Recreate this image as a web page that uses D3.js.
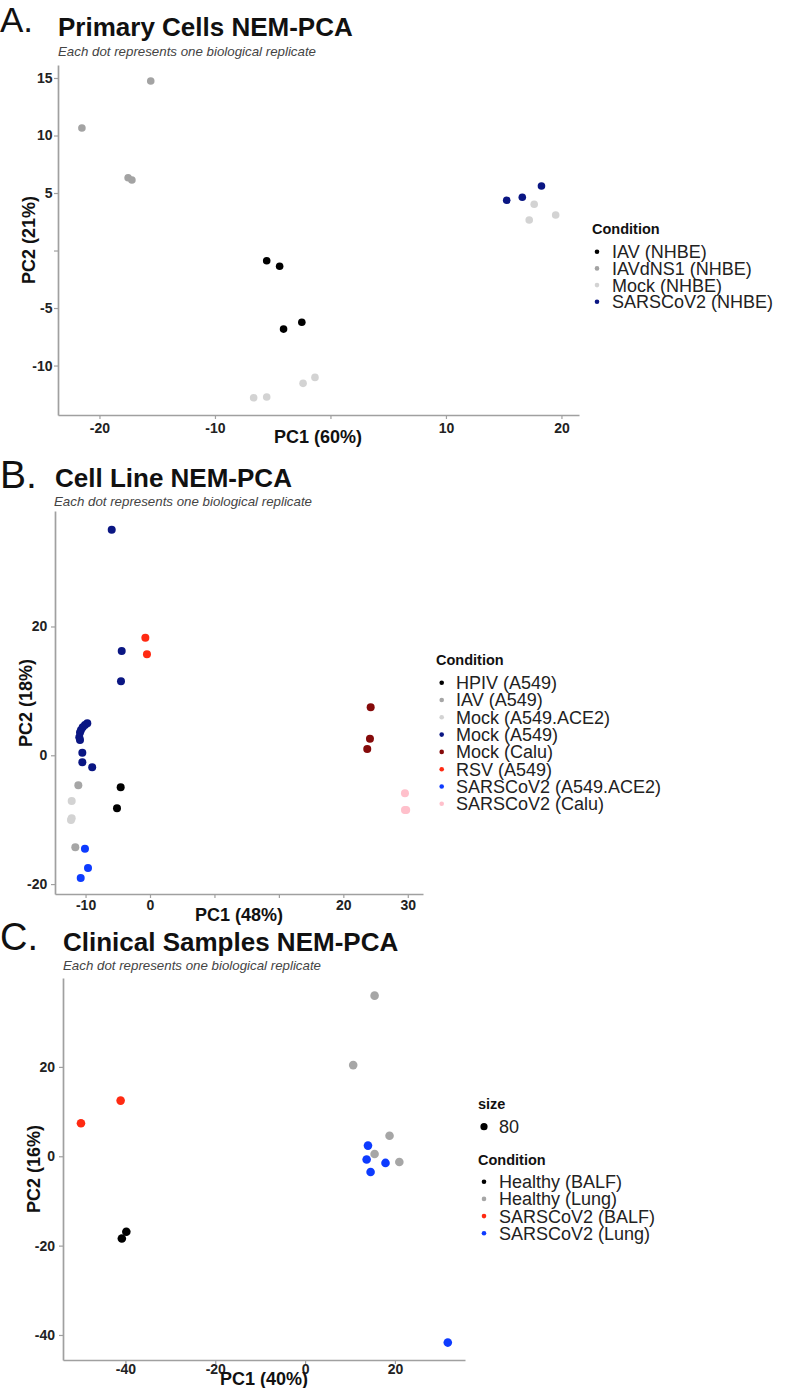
<!DOCTYPE html>
<html><head><meta charset="utf-8">
<script src="https://cdn.jsdelivr.net/npm/d3@7"></script>
<style>
html,body{margin:0;padding:0;background:#fff;}
svg{display:block;font-family:"Liberation Sans",Arial,Helvetica,sans-serif;}
</style></head><body>
<svg id="chart" width="786" height="1388"></svg>
<script>
// ---------------- Panel A : Primary Cells ----------------
const primaryConditions = ["IAV (NHBE)", "IAVdNS1 (NHBE)", "Mock (NHBE)", "SARSCoV2 (NHBE)"];
const primaryColors = ["#000000", "#a3a3a3", "#d3d3d3", "#0a1683"];
const primaryCond = [
  "IAVdNS1 (NHBE)", "IAVdNS1 (NHBE)", "IAVdNS1 (NHBE)", "IAVdNS1 (NHBE)",
  "IAV (NHBE)", "IAV (NHBE)", "IAV (NHBE)", "IAV (NHBE)",
  "Mock (NHBE)", "Mock (NHBE)", "Mock (NHBE)", "Mock (NHBE)", "Mock (NHBE)", "Mock (NHBE)", "Mock (NHBE)",
  "SARSCoV2 (NHBE)", "SARSCoV2 (NHBE)", "SARSCoV2 (NHBE)"
];
const primaryPC1 = [-15.56, -21.52, -17.52, -17.19, -5.52, -4.40, -4.06, -2.48,
  -6.65, -5.52, -2.37, -1.34, 17.64, 17.21, 19.50, 15.26, 16.61, 18.27];
const primaryPC2 = [14.74, 10.65, 6.33, 6.13, -0.89, -1.37, -6.83, -6.24,
  -12.80, -12.74, -11.55, -11.03, 4.02, 2.65, 3.09, 4.37, 4.63, 5.61];
const primaryXTicks = [-20, -10, 0, 10, 20];
const primaryXLabels = ["-20", "-10", "", "10", "20"];
const primaryYTicks = [15, 10, 5, 0, -5, -10];
const primaryYLabels = ["15", "10", "5", "", "-5", "-10"];

// ---------------- Panel B : Cell Lines ----------------
const cellConditions = ["HPIV (A549)", "IAV (A549)", "Mock (A549.ACE2)", "Mock (A549)", "Mock (Calu)",
  "RSV (A549)", "SARSCoV2 (A549.ACE2)", "SARSCoV2 (Calu)"];
const cellColors = ["#000000", "#a6a6a6", "#d3d3d3", "#0a1683", "#850a0a", "#ff2a12", "#0d3bff", "#ffc0cb"];
const cellCond = [
  "HPIV (A549)", "HPIV (A549)",
  "IAV (A549)", "IAV (A549)",
  "Mock (A549.ACE2)", "Mock (A549.ACE2)", "Mock (A549.ACE2)",
  "Mock (A549)", "Mock (A549)", "Mock (A549)", "Mock (A549)", "Mock (A549)", "Mock (A549)", "Mock (A549)",
  "Mock (A549)", "Mock (A549)", "Mock (A549)", "Mock (A549)", "Mock (A549)", "Mock (A549)",
  "Mock (Calu)", "Mock (Calu)", "Mock (Calu)",
  "RSV (A549)", "RSV (A549)",
  "SARSCoV2 (A549.ACE2)", "SARSCoV2 (A549.ACE2)", "SARSCoV2 (A549.ACE2)",
  "SARSCoV2 (Calu)", "SARSCoV2 (Calu)", "SARSCoV2 (Calu)"
];
const cellPC1 = [-4.55, -5.12, -11.12, -11.59, -12.15, -12.15, -12.26,
  -5.94, -4.39, -4.50, -9.73, -10.09, -10.44, -10.71, -10.86, -10.97, -10.86, -10.50, -10.50, -8.97,
  34.24, 34.13, 33.71, -0.72, -0.47, -10.09, -9.62, -10.75, 39.56, 39.56, 39.75];
const cellPC2 = [-4.97, -8.23, -4.66, -14.29, -7.10, -9.78, -10.05,
  35.0, 16.2, 11.5, 4.97, 4.70, 4.35, 3.93, 3.52, 2.80, 2.38, 0.40, -1.09, -1.86,
  7.45, 2.58, 0.98, 18.26, 15.68, -14.5, -17.5, -19.05, -5.9, -8.49, -8.49];
const cellXTicks = [-10, 0, 10, 20, 30, 40];
const cellXLabels = ["-10", "0", "", "", "20", "30"];
const cellYTicks = [20, 0, -20];
const cellYLabels = ["20", "0", "-20"];

// ---------------- Panel C : Clinical Samples ----------------
const clinicalConditions = ["Healthy (BALF)", "Healthy (Lung)", "SARSCoV2 (BALF)", "SARSCoV2 (Lung)"];
const clinicalColors = ["#000000", "#a6a6a6", "#ff2a12", "#0d3bff"];
const clinicalCond = [
  "Healthy (BALF)", "Healthy (BALF)",
  "Healthy (Lung)", "Healthy (Lung)", "Healthy (Lung)", "Healthy (Lung)", "Healthy (Lung)",
  "SARSCoV2 (BALF)", "SARSCoV2 (BALF)",
  "SARSCoV2 (Lung)", "SARSCoV2 (Lung)", "SARSCoV2 (Lung)", "SARSCoV2 (Lung)", "SARSCoV2 (Lung)"
];
const clinicalPC1 = [-39.8, -40.8, 15.47, 10.71, 18.8, 15.47, 20.98, -49.9, -41.07, 14.0, 13.7, 17.9, 14.58, 31.77];
const clinicalPC2 = [-16.9, -18.4, 35.95, 20.4, 4.6, 0.5, -1.27, 7.38, 12.46, 2.39, -0.74, -1.49, -3.51, -41.7];
const clinicalXTicks = [-40, -20, 0, 20];
const clinicalXLabels = ["-40", "-20", "0", "20"];
const clinicalYTicks = [20, 0, -20, -40];
const clinicalYLabels = ["20", "0", "-20", "-40"];
const clinicalSizeLabel = ["80"];

const subtitleText = "Each dot represents one biological replicate";

// ---------------- drawing ----------------
const svg = d3.select("#chart");
const AXIS_COLOR = "#a0a0a0";

function drawPanel(p) {
  const g = svg.append("g");
  g.append("text").attr("x", p.letterX).attr("y", p.letterY)
    .attr("font-size", p.letterSize).attr("fill", "#111").text(p.letter);
  g.append("text").attr("x", p.titleX).attr("y", p.titleY)
    .attr("font-size", 26).attr("font-weight", "bold").attr("fill", "#111").text(p.title);
  g.append("text").attr("x", p.subX).attr("y", p.subY)
    .attr("font-size", 13.3).attr("font-style", "italic").attr("fill", "#444").text(subtitleText);

  const x = d3.scaleLinear().domain(p.xDomain).range([p.left, p.right]);
  const y = d3.scaleLinear().domain(p.yDomain).range([p.bottom, p.top]);
  const color = d3.scaleOrdinal().domain(p.conditions).range(p.colors);

  const xAxis = d3.axisBottom(x).tickValues(p.xTicks)
    .tickFormat((d, i) => p.xLabels[i]).tickSize(4).tickSizeOuter(0).tickPadding(p.xPad);
  const yAxis = d3.axisLeft(y).tickValues(p.yTicks)
    .tickFormat((d, i) => p.yLabels[i]).tickSize(4).tickSizeOuter(0).tickPadding(p.yPad);

  const gx = g.append("g").attr("transform", `translate(0,${p.bottom})`).call(xAxis);
  const gy = g.append("g").attr("transform", `translate(${p.left},0)`).call(yAxis);
  [gx, gy].forEach(a => {
    a.select(".domain").attr("stroke", AXIS_COLOR).attr("stroke-width", 1.7);
    a.selectAll(".tick line").attr("stroke", AXIS_COLOR).attr("stroke-width", 1.2);
    a.selectAll(".tick text").attr("fill", "#222").attr("font-size", 14)
      .attr("font-weight", "bold").attr("font-family", "Liberation Sans, Arial, sans-serif");
  });

  const pts = p.pc1.map((v, i) => ({c: p.cond[i], x: v, y: p.pc2[i]}));
  g.append("g").selectAll("circle").data(pts).join("circle")
    .attr("cx", d => x(d.x)).attr("cy", d => y(d.y)).attr("r", p.r)
    .attr("fill", d => color(d.c));

  g.append("text").attr("x", p.xTitleX).attr("y", p.xTitleY).attr("text-anchor", "middle")
    .attr("font-size", 18).attr("font-weight", "bold").attr("fill", "#111").text(p.xTitle);
  g.append("text").attr("transform", `translate(${p.yTitleX},${p.yTitleY}) rotate(-90)`)
    .attr("text-anchor", "middle")
    .attr("font-size", 18).attr("font-weight", "bold").attr("fill", "#111").text(p.yTitle);

  // legend
  const L = p.legend;
  if (L.sizeTitleY) {
    g.append("text").attr("x", L.x).attr("y", L.sizeTitleY).attr("font-size", 14.5)
      .attr("font-weight", "bold").attr("fill", "#111").text("size");
    g.append("circle").attr("cx", L.dotX).attr("cy", L.sizeItemY).attr("r", 3.6).attr("fill", "#000");
    g.append("text").attr("x", L.textX).attr("y", L.sizeItemY + 6.4).attr("font-size", 18)
      .attr("fill", "#222").text(clinicalSizeLabel[0]);
  }
  g.append("text").attr("x", L.x).attr("y", L.titleY).attr("font-size", 14.5)
    .attr("font-weight", "bold").attr("fill", "#111").text("Condition");
  const items = g.append("g").selectAll("g").data(p.conditions).join("g")
    .attr("transform", (d, i) => `translate(0,${L.firstY + i * L.step})`);
  items.append("circle").attr("cx", L.dotX).attr("cy", 0).attr("r", 2.3).attr("fill", d => color(d));
  items.append("text").attr("x", L.textX).attr("y", 6.4).attr("font-size", 18)
    .attr("fill", "#222").text(d => d);
}

drawPanel({
  letter: "A.", letterX: 0, letterY: 32, letterSize: 35,
  title: "Primary Cells NEM-PCA", titleX: 58, titleY: 36, subX: 58, subY: 56,
  left: 58, right: 579, top: 65, bottom: 415,
  xDomain: [-23.59, 21.52], yDomain: [-14.30, 16.13],
  xTicks: primaryXTicks, xLabels: primaryXLabels, yTicks: primaryYTicks, yLabels: primaryYLabels,
  xPad: 4, yPad: 1.5,
  conditions: primaryConditions, colors: primaryColors,
  cond: primaryCond, pc1: primaryPC1, pc2: primaryPC2, r: 3.8,
  xTitle: "PC1 (60%)", xTitleX: 318, xTitleY: 443,
  yTitle: "PC2 (21%)", yTitleX: 35, yTitleY: 240,
  legend: {x: 592, titleY: 234, firstY: 251.7, step: 16.7, dotX: 597, textX: 612}
});

drawPanel({
  letter: "B.", letterX: 0, letterY: 488, letterSize: 39,
  title: "Cell Line NEM-PCA", titleX: 55, titleY: 487, subX: 54, subY: 506,
  left: 55, right: 423, top: 511, bottom: 894,
  xDomain: [-14.74, 42.36], yDomain: [-21.54, 37.93],
  xTicks: cellXTicks, xLabels: cellXLabels, yTicks: cellYTicks, yLabels: cellYLabels,
  xPad: 2, yPad: 3.7,
  conditions: cellConditions, colors: cellColors,
  cond: cellCond, pc1: cellPC1, pc2: cellPC2, r: 4,
  xTitle: "PC1 (48%)", xTitleX: 239, xTitleY: 921,
  yTitle: "PC2 (18%)", yTitleX: 32, yTitleY: 703,
  legend: {x: 436, titleY: 665, firstY: 682.7, step: 17.3, dotX: 441.7, textX: 456}
});

drawPanel({
  letter: "C.", letterX: 0, letterY: 950, letterSize: 38,
  title: "Clinical Samples NEM-PCA", titleX: 63, titleY: 951, subX: 63, subY: 970,
  left: 63, right: 465, top: 978, bottom: 1360,
  xDomain: [-53.9, 35.6], yDomain: [-45.6, 39.9],
  xTicks: clinicalXTicks, xLabels: clinicalXLabels, yTicks: clinicalYTicks, yLabels: clinicalYLabels,
  xPad: 0, yPad: 4,
  conditions: clinicalConditions, colors: clinicalColors,
  cond: clinicalCond, pc1: clinicalPC1, pc2: clinicalPC2, r: 4.3,
  xTitle: "PC1 (40%)", xTitleX: 264, xTitleY: 1385,
  yTitle: "PC2 (16%)", yTitleX: 40, yTitleY: 1169,
  legend: {x: 478, sizeTitleY: 1109, sizeItemY: 1126.7, titleY: 1165, firstY: 1181.7, step: 17.2, dotX: 484, textX: 499}
});
</script>
</body></html>
